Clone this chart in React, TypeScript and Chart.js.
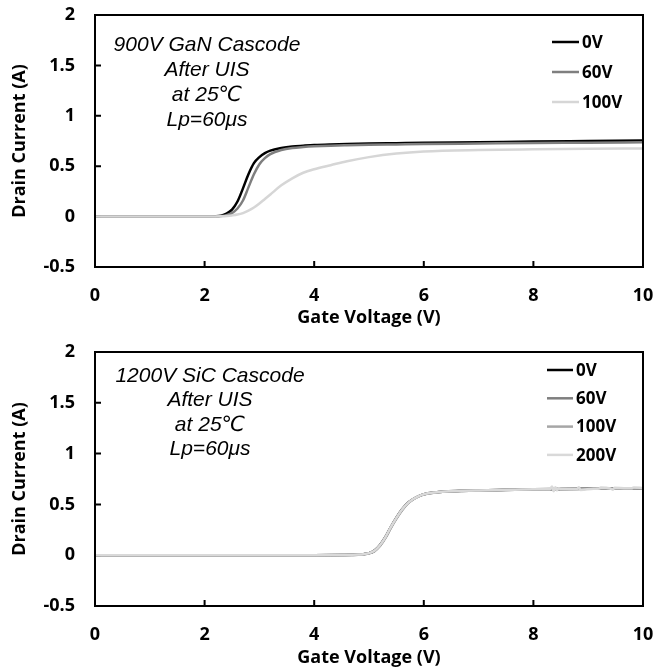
import React, { useEffect, useRef } from "react";
import { Chart, registerables } from "chart.js";

Chart.register(...registerables);

// ---------- DATA ----------
const ganX = [0, 1, 2, 2.2, 2.3, 2.4, 2.5, 2.6, 2.7, 2.8, 2.9, 3.0, 3.1, 3.2, 3.4, 3.6, 3.8, 4.0, 4.3, 4.6, 5.0, 5.5, 6, 7, 8, 9, 10];
const gan0V = [0, 0, 0, 0.003, 0.01, 0.03, 0.07, 0.15, 0.28, 0.42, 0.53, 0.59, 0.63, 0.655, 0.68, 0.695, 0.703, 0.71, 0.716, 0.72, 0.724, 0.728, 0.732, 0.738, 0.745, 0.75, 0.755];
const gan60V = [0, 0, 0, 0.002, 0.005, 0.015, 0.035, 0.08, 0.16, 0.29, 0.42, 0.52, 0.58, 0.62, 0.66, 0.68, 0.69, 0.697, 0.704, 0.708, 0.712, 0.716, 0.72, 0.725, 0.73, 0.733, 0.737];
const gan100V = [0, 0, 0, 0.002, 0.004, 0.007, 0.012, 0.02, 0.035, 0.06, 0.09, 0.13, 0.175, 0.22, 0.31, 0.38, 0.435, 0.47, 0.51, 0.55, 0.59, 0.625, 0.645, 0.66, 0.667, 0.672, 0.676];
const ganLabels = ["0V", "60V", "100V"];
const ganNote = ["900V GaN Cascode", "After UIS", "at 25\u2103", "Lp=60\u03bcs"];

const sicX = [0, 2, 4, 4.5, 4.8, 4.9, 5.0, 5.1, 5.2, 5.3, 5.4, 5.5, 5.6, 5.7, 5.8, 5.9, 6.0, 6.2, 6.4, 6.7, 7.0, 7.5, 8.0, 9.0, 10.0];
const sic0V = [0, 0, 0, 0.002, 0.006, 0.01, 0.02, 0.045, 0.1, 0.18, 0.28, 0.37, 0.45, 0.51, 0.55, 0.58, 0.6, 0.618, 0.627, 0.634, 0.638, 0.643, 0.648, 0.655, 0.66];
const sic60V = [0, 0, 0, 0.002, 0.005, 0.009, 0.018, 0.04, 0.09, 0.17, 0.27, 0.36, 0.44, 0.505, 0.548, 0.578, 0.598, 0.616, 0.626, 0.633, 0.637, 0.642, 0.647, 0.654, 0.659];
const sic100V = [0, 0, 0, 0.002, 0.005, 0.009, 0.019, 0.042, 0.095, 0.175, 0.275, 0.365, 0.445, 0.507, 0.549, 0.579, 0.599, 0.617, 0.626, 0.633, 0.637, 0.642, 0.647, 0.654, 0.659];
const sic200X = [0, 2, 4, 4.5, 4.8, 4.9, 5.0, 5.1, 5.2, 5.3, 5.4, 5.5, 5.6, 5.7, 5.8, 5.9, 6.0, 6.2, 6.4, 6.7, 7.0, 7.5, 8.0, 8.3, 8.34, 8.37, 8.4, 8.43, 8.46, 8.5, 8.7, 8.8, 8.83, 8.86, 9.1, 9.2, 9.23, 9.4, 9.45, 9.48, 9.7, 9.8, 9.83, 10];
const sic200V = [0, 0, 0, 0.002, 0.006, 0.01, 0.02, 0.044, 0.098, 0.178, 0.278, 0.368, 0.448, 0.508, 0.55, 0.58, 0.6, 0.618, 0.627, 0.634, 0.638, 0.643, 0.648, 0.65, 0.675, 0.63, 0.668, 0.638, 0.66, 0.651, 0.652, 0.653, 0.668, 0.642, 0.654, 0.656, 0.666, 0.657, 0.645, 0.664, 0.658, 0.659, 0.667, 0.66];
const sicLabels = ["0V", "60V", "100V", "200V"];
const sicNote = ["1200V SiC Cascode", "After UIS", "at 25\u2103", "Lp=60\u03bcs"];

const xAxisTitle = "Gate Voltage (V)";
const yAxisTitle = "Drain Current (A)";
const xRange = [0, 10, 2];
const yRange = [-0.5, 2, 0.5];

// ---------- STYLE ----------
const BOLD_FONT = '"Open Sans", "DejaVu Sans", sans-serif';
const NOTE_FONT = '"Liberation Sans", Arial, "DejaVu Sans", sans-serif';

const toPoints = (xs: number[], ys: number[]) => xs.map((x, i) => ({ x, y: ys[i] }));

const ticksPlugin = {
  id: "innerTicks",
  beforeDatasetsDraw(chart: any) {
    const { ctx, chartArea: a, scales } = chart;
    ctx.save();
    ctx.strokeStyle = "#000";
    ctx.lineWidth = 2;
    ctx.beginPath();
    scales.x.ticks.forEach((t: any) => {
      const px = scales.x.getPixelForValue(t.value);
      if (px > a.left + 1 && px < a.right - 1) {
        ctx.moveTo(px, a.bottom);
        ctx.lineTo(px, a.bottom - 6);
      }
    });
    scales.y.ticks.forEach((t: any) => {
      const py = scales.y.getPixelForValue(t.value);
      if (py > a.top + 1 && py < a.bottom - 1) {
        ctx.moveTo(a.left, py);
        ctx.lineTo(a.left + 6, py);
      }
    });
    ctx.stroke();
    ctx.restore();
  },
};

const framePlugin = {
  id: "frame",
  afterDatasetsDraw(chart: any) {
    const { ctx, chartArea: a } = chart;
    ctx.save();
    ctx.strokeStyle = "#000";
    ctx.lineWidth = 2;
    ctx.strokeRect(a.left, a.top, a.right - a.left, a.bottom - a.top);
    ctx.restore();
  },
};

const notePlugin = {
  id: "note",
  afterDraw(chart: any, _args: any, opts: any) {
    const { ctx, chartArea: a } = chart;
    ctx.save();
    ctx.font = `italic ${opts.size}px ${NOTE_FONT}`;
    ctx.fillStyle = "#000";
    ctx.textAlign = "center";
    ctx.textBaseline = "alphabetic";
    (opts.lines as string[]).forEach((line, i) => {
      ctx.fillText(line, a.left + opts.dx, a.top + opts.dy + i * opts.spacing + opts.size * 0.36);
    });
    ctx.restore();
  },
};

const legendPlugin = {
  id: "insideLegend",
  afterDraw(chart: any, _args: any, opts: any) {
    const { ctx } = chart;
    ctx.save();
    ctx.font = `bold ${opts.size}px ${BOLD_FONT}`;
    ctx.textAlign = "left";
    ctx.textBaseline = "middle";
    chart.data.datasets.forEach((ds: any, i: number) => {
      const y = opts.y0 + i * opts.spacing;
      ctx.strokeStyle = ds.borderColor;
      ctx.lineWidth = 2.5;
      ctx.beginPath();
      ctx.moveTo(opts.x0, y);
      ctx.lineTo(opts.x1, y);
      ctx.stroke();
      ctx.fillStyle = "#000";
      ctx.fillText(ds.label, opts.x1 + 3, y + 1);
    });
    ctx.restore();
  },
};

type Series = { label: string; xs: number[]; ys: number[]; color: string };

function buildConfig(series: Series[], p: any) {
  const tickFont = { family: BOLD_FONT, size: 18, weight: "bold" as const };
  const fmt = (v: any) => `${Number(v)}`;
  return {
    type: "line" as const,
    data: {
      datasets: series.map((s, i) => ({
        label: s.label,
        data: toPoints(s.xs, s.ys),
        borderColor: s.color,
        backgroundColor: s.color,
        borderWidth: 2.5,
        pointRadius: 0,
        fill: false,
        cubicInterpolationMode: "monotone" as const,
        order: -i,
      })),
    },
    options: {
      animation: false as const,
      responsive: false,
      events: [],
      layout: { padding: { top: p.padTop, right: 13, left: 0, bottom: 0 } },
      plugins: {
        legend: { display: false },
        tooltip: { enabled: false },
        note: p.note,
        insideLegend: p.legend,
      },
      scales: {
        x: {
          type: "linear" as const,
          min: xRange[0],
          max: xRange[1],
          ticks: { stepSize: xRange[2], font: tickFont, color: "#000", padding: 18, maxRotation: 0, callback: fmt },
          grid: { display: false, drawTicks: false },
          border: { display: false },
          title: {
            display: true,
            text: xAxisTitle,
            color: "#000",
            font: { family: BOLD_FONT, size: 18, weight: "bold" as const },
            padding: { top: 0, bottom: 0 },
          },
          afterFit: (s: any) => {
            s.height = p.xHeight;
            s.paddingLeft = 0;
            s.paddingRight = 0;
            s.paddingTop = 0;
            s.paddingBottom = 0;
          },
        },
        y: {
          type: "linear" as const,
          min: yRange[0],
          max: yRange[1],
          ticks: { stepSize: yRange[2], font: tickFont, color: "#000", padding: 20, callback: fmt },
          grid: { display: false, drawTicks: false },
          border: { display: false },
          title: {
            display: true,
            text: yAxisTitle,
            color: "#000",
            font: { family: BOLD_FONT, size: 18, weight: "bold" as const },
            padding: { top: 9, bottom: 0 },
          },
          afterFit: (s: any) => {
            s.width = 95;
            s.paddingLeft = 0;
            s.paddingRight = 0;
            s.paddingTop = 0;
            s.paddingBottom = 0;
          },
        },
      },
    },
    plugins: [ticksPlugin, framePlugin, notePlugin, legendPlugin],
  };
}

function Panel({ height, series, params }: { height: number; series: Series[]; params: any }) {
  const ref = useRef<HTMLCanvasElement | null>(null);
  useEffect(() => {
    if (!ref.current) return;
    const chart = new Chart(ref.current, buildConfig(series, params) as any);
    return () => chart.destroy();
  }, []);
  return <canvas ref={ref} width={656} height={height} style={{ display: "block", width: 656, height }} />;
}

export default function App() {
  const ganSeries: Series[] = [
    { label: ganLabels[0], xs: ganX, ys: gan0V, color: "#000000" },
    { label: ganLabels[1], xs: ganX, ys: gan60V, color: "#7f7f7f" },
    { label: ganLabels[2], xs: ganX, ys: gan100V, color: "#d6d6d6" },
  ];
  const sicSeries: Series[] = [
    { label: sicLabels[0], xs: sicX, ys: sic0V, color: "#000000" },
    { label: sicLabels[1], xs: sicX, ys: sic60V, color: "#7f7f7f" },
    { label: sicLabels[2], xs: sicX, ys: sic100V, color: "#a6a6a6" },
    { label: sicLabels[3], xs: sic200X, ys: sic200V, color: "#d9d9d9" },
  ];
  return (
    <div style={{ position: "absolute", left: 0, top: 0, width: 656, height: 669, background: "#fff" }}>
      <Panel
        height={329}
        series={ganSeries}
        params={{
          padTop: 15,
          xHeight: 62,
          note: { lines: ganNote, dx: 112, dy: 28, spacing: 25.3, size: 21 },
          legend: { x0: 552, x1: 579, y0: 42, spacing: 30, size: 17 },
        }}
      />
      <Panel
        height={340}
        series={sicSeries}
        params={{
          padTop: 23,
          xHeight: 63,
          note: { lines: sicNote, dx: 115, dy: 22, spacing: 24.5, size: 21 },
          legend: { x0: 547, x1: 573, y0: 370 - 329, spacing: 28.3, size: 17 },
        }}
      />
    </div>
  );
}
